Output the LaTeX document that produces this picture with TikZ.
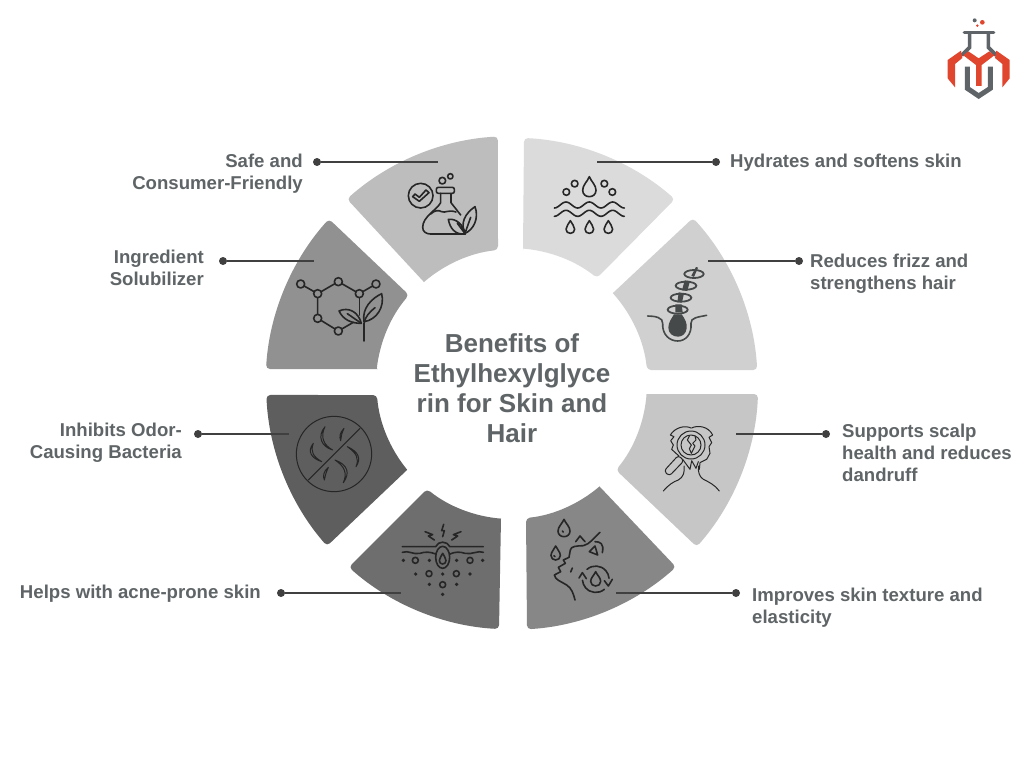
\documentclass[tikz,border=0pt]{standalone}
\usepackage{fontspec}
\setmainfont{Liberation Sans}
\definecolor{txt}{HTML}{5F6467}
\definecolor{lin}{HTML}{404040}
\definecolor{ico}{HTML}{262626}
\definecolor{lred}{HTML}{E0452E}
\definecolor{lgray}{HTML}{5F6468}
\newcommand\sect[9]{%
  \pgfmathsetmacro\aB{atan2(#5-384,#4-512)}%
  \pgfmathsetmacro\aC{atan2(#7-384,#6-512)}%
  \pgfmathsetmacro\aD{atan2(#9-384,#8-512)}%
  \pgfmathsetmacro\aA{atan2(#3-384,#2-512)}%
  \pgfmathsetmacro\rO{veclen(#4-512,#5-384)}%
  \pgfmathsetmacro\rI{veclen(#8-512,#9-384)}%
  \fill[#1] (#2,#3) [rounded corners=4pt] -- (#4,#5) arc[start angle=\aB,end angle=\aC,radius=\rO] -- (#8,#9) [sharp corners] arc[start angle=\aD,end angle=\aA,radius=\rI] -- cycle;%
}
% drop outline: tip x, tip y, width, height
\newcommand\dropic[4]{\draw[ic,shift={(#1,#2)},xscale=#3,yscale=#4] (0,0) .. controls (.15,.25) and (.5,.42) .. (.5,.68) .. controls (.5,.88) and (.27,1) .. (0,1) .. controls (-.27,1) and (-.5,.88) .. (-.5,.68) .. controls (-.5,.42) and (-.15,.25) .. (0,0) -- cycle;}
\tikzset{
  lbl/.style={text=txt,font=\bfseries\fontsize{18.6}{22}\selectfont,inner sep=0pt},
  dotn/.style={circle,fill=lin,inner sep=0pt,minimum size=8pt},
  conn/.style={draw=lin,line width=2pt},
  ic/.style={draw=ico,line width=1.6pt,line cap=round,line join=round},
  ict/.style={draw=ico,line width=1pt,line cap=round,line join=round},
  zoomA/.style={shift={(#1)},scale=0.33333}
}
\begin{document}
\begin{tikzpicture}[x=1pt,y=1pt,yscale=-1]
\useasboundingbox (0,0) rectangle (1024,768);
\fill[white] (0,0) rectangle (1024,768);
\sect{black!14}{523}{250}{524}{138}{675}{199}{597}{278}
\sect{black!18.5}{614}{292}{693}{218}{758}{370}{647}{370}
\sect{black!22.5}{646}{394}{758}{394}{697}{547}{616}{470}
\sect{black!47}{600}{487}{676}{567}{527}{629}{526}{518}
\sect{black!57}{501}{518}{499}{629}{349}{567}{427}{489}
\sect{black!63}{407}{470}{327}{546}{266}{395}{377}{395}
\sect{black!43}{378}{369}{266}{369}{329}{219}{409}{295}
\sect{black!26}{423}{281}{347}{199}{498}{138}{498}{250}

% centre title
\node[name=title,text=txt,font=\bfseries\fontsize{26}{30}\selectfont,align=center,inner sep=0pt] at (512,388) {Benefits of\\Ethylhexylglyce\\rin for Skin and\\Hair};

% labels
\node[lbl,name=l8,anchor=east,align=right] at (303,174) {Safe and\\Consumer-Friendly};
\node[lbl,name=l7,anchor=east,align=right] at (204,268) {Ingredient\\Solubilizer};
\node[lbl,name=l6,anchor=east,align=right] at (182,443) {Inhibits Odor-\\Causing Bacteria};
\node[lbl,name=l5,anchor=east,align=right] at (261,594) {Helps with acne-prone skin};
\node[lbl,name=l1,anchor=west,align=left] at (730,163) {Hydrates and softens skin};
\node[lbl,name=l2,anchor=west,align=left] at (810,274) {Reduces frizz and\\strengthens hair};
\node[lbl,name=l3,anchor=west,align=left] at (842,453) {Supports scalp\\health and reduces\\dandruff};
\node[lbl,name=l4,anchor=west,align=left] at (752,608) {Improves skin texture and\\elasticity};

% connectors
\node[dotn,name=d8] at (317,162) {}; \coordinate (e8) at (438,162); \draw[conn] (d8) -- (e8);
\node[dotn,name=d1] at (716,162) {}; \coordinate (e1) at (597,162); \draw[conn] (d1) -- (e1);
\node[dotn,name=d7] at (223,261) {}; \coordinate (e7) at (314,261); \draw[conn] (d7) -- (e7);
\node[dotn,name=d2] at (799,261) {}; \coordinate (e2) at (708,261); \draw[conn] (d2) -- (e2);
\node[dotn,name=d6] at (198,434) {}; \coordinate (e6) at (289,434); \draw[conn] (d6) -- (e6);
\node[dotn,name=d3] at (826,434) {}; \coordinate (e3) at (736,434); \draw[conn] (d3) -- (e3);
\node[dotn,name=d5] at (281,593) {}; \coordinate (e5) at (401,593); \draw[conn] (d5) -- (e5);
\node[dotn,name=d4] at (736,593) {}; \coordinate (e4) at (616,593); \draw[conn] (d4) -- (e4);

% icon 1: hydration
\begin{scope}[zoomA={340,130}]
\dropic{748}{140}{40}{60}
\foreach \xx in {691,748,805} {\dropic{\xx}{272}{26}{38}}
\foreach \p in {(679,186),(704,161),(793,161),(817,186)} \draw[ic] \p circle (10);
\foreach \yy in {225,250} \draw[ic] plot[domain=0:210,samples=61,smooth] ({643+\x},{\yy+9*cos(\x*5.142857)});
\end{scope}

% icon 8: flask
\begin{scope}[zoomA={340,130}]
\draw[ic,rounded corners=2pt] (289,172) rectangle (343,190);
\draw[ic] (302,190) -- (302,218) .. controls (290,240) and (248,260) .. (248,292) .. controls (248,305) and (258,312) .. (272,312) -- (375,312);
\draw[ic] (333,190) -- (333,218) -- (362,255);
\draw[ic] (272,252) .. controls (285,240) and (295,240) .. (305,245) .. controls (315,250) and (325,238) .. (348,246);
\draw[ic] (307,152) circle (10);
\draw[ic] (331,139) circle (8);
\draw[ic] (242,197) circle (37);
\draw[ic] (218,200) -- (225,192) -- (238,202) -- (258,180) -- (267,188) -- (238,214) -- cycle;
\draw[ic] (375,310) .. controls (360,280) and (375,250) .. (405,230) .. controls (418,265) and (400,300) .. (375,310);
\draw[ic] (376,312) .. controls (345,315) and (330,295) .. (325,268) .. controls (350,265) and (370,285) .. (376,312) -- (352,280);
\draw[ic] (375,310) -- (392,262);
\end{scope}

% icon 7: molecule + leaves
\begin{scope}[zoomA={260,215}]
\draw[ic] (122,207) -- (173,236) -- (235,200) -- (298,236) -- (348,207);
\draw[ic] (173,236) -- (173,310) -- (235,348) -- (280,322);
\draw[ic] (298,236) -- (298,300);
\foreach \p in {(122,207),(173,236),(235,200),(298,236),(348,207),(173,310),(235,348)} \draw[ic,fill=black!43] \p circle (12);
\draw[ic] (312,378) -- (312,325) .. controls (315,305) and (330,290) .. (345,278);
\draw[ic] (312,320) .. controls (305,280) and (335,250) .. (365,236) .. controls (375,275) and (350,315) .. (312,320);
\draw[ic] (304,325) .. controls (275,325) and (250,315) .. (237,288) .. controls (265,275) and (295,290) .. (304,325);
\draw[ic] (304,325) -- (262,296);
\end{scope}

% icon 2: follicle
\begin{scope}[zoomA={610,215}]
\definecolor{fol}{HTML}{46494A}
\draw[fol,line width=1.6pt,line cap=round] (113,303) .. controls (135,303) and (160,308) .. (158,325) .. controls (156,360) and (180,378) .. (203,378) .. controls (225,378) and (246,360) .. (243,325) .. controls (241,308) and (265,306) .. (290,301);
\fill[fol] (192,298) -- (215,298) .. controls (225,312) and (232,325) .. (230,340) .. controls (228,357) and (216,365) .. (204,365) .. controls (188,365) and (175,355) .. (175,338) .. controls (175,322) and (185,310) .. (192,298) -- cycle;
\fill[fol] (196,268) -- (215,268) -- (218,292) -- (196,292) -- cycle;
\fill[fol] (206,232) -- (222,235) -- (216,262) -- (202,262) -- cycle;
\fill[fol] (224,196) -- (240,198) -- (232,228) -- (216,226) -- cycle;
\fill[fol] (258,156) -- (264,158) -- (252,186) -- (244,182) -- cycle;
\foreach \p/\rx in {(203,284)/30,(213,248)/31,(228,212)/31,(252,177)/29}
  \draw[fol,line width=1.8pt] \p ellipse[x radius=\rx,y radius=12];
\end{scope}

% icon 3: head + magnifier
\begin{scope}[zoomA={610,390}]
\draw[ict] (160,303) .. controls (175,285) and (190,275) .. (205,270) .. controls (220,262) and (225,245) .. (222,228);
\draw[ict] (328,303) .. controls (315,285) and (295,275) .. (280,268) .. controls (268,260) and (263,245) .. (266,228);
\draw[ict] (243,114) .. controls (225,105) and (195,112) .. (181,135) -- (192,140) -- (182,152) -- (190,165) -- (185,178) -- (198,190) -- (207,198);
\draw[ict] (245,114) .. controls (262,105) and (295,108) .. (308,135) -- (297,142) -- (305,158) -- (297,170) -- (300,190) -- (290,208) -- (270,218) -- (268,238);
\draw[ict] (218,208) -- (240,238) -- (245,212) -- (258,235) -- (265,215);
\draw[ict,fill=black!22.5] (243,165) circle (42);
\draw[ict] (243,165) circle (30);
\draw[ict] (238,138) -- (232,150) -- (244,165) -- (238,176) -- (244,190) -- (255,168) -- (248,160) -- (258,150) -- (255,138);
\draw[ict,rounded corners=3pt] (205,196) -- (222,212) -- (178,258) -- (162,243) -- cycle;
\end{scope}

% icon 4: face
\begin{scope}[zoomA={345,480}]
\dropic{657}{118}{36}{52}
\dropic{632}{198}{28}{42}
\draw[ic] (652,153) -- (655,156);
\draw[ic] (627,227) -- (630,230);
\draw[ic] (765,157) .. controls (745,175) and (735,192) .. (715,197) .. controls (695,198) and (678,198) .. (676,210) -- (672,232) -- (655,240) -- (661,250) -- (640,262) -- (647,275) -- (628,285) .. controls (630,300) and (650,305) .. (665,315) .. controls (680,325) and (685,340) .. (690,360);
\draw[ic] (692,185) -- (705,168) -- (720,185);
\draw[ic] (733,215) -- (750,198) -- (758,225) -- cycle;
\draw[ic] (750,185) .. controls (765,185) and (778,190) .. (772,218);
\draw[ic] (682,264) -- (677,276);
\dropic{752}{275}{30}{43}
\draw[ic] (726,268) arc[start angle=229,end angle=355,radius=40];
\draw[ic] (778,328) arc[start angle=50,end angle=175,radius=40];
\draw[ic] (702,294) -- (712,278) -- (724,296);
\draw[ic] (778,302) -- (790,318) -- (802,298);
\end{scope}

% icon 5: pimple
\begin{scope}[zoomA={345,480}]
\draw[ic] (172,200) -- (272,200) .. controls (280,182) and (305,182) .. (315,200) -- (415,200);
\draw[ic] (172,217) .. controls (190,210) and (205,225) .. (225,220) .. controls (240,215) and (255,215) .. (272,222);
\draw[ic] (315,222) .. controls (330,215) and (345,215) .. (360,220) .. controls (380,225) and (400,210) .. (415,217);
\draw[ic] (293,232) ellipse[x radius=21,y radius=33];
\dropic{293}{220}{20}{32}
\draw[ic] (296,133) -- (290,152) -- (298,152) -- (293,170);
\draw[ic] (240,155) -- (263,164) -- (250,168) -- (268,180);
\draw[ic] (348,155) -- (325,164) -- (338,168) -- (320,180);
\foreach \p in {(175,241),(253,241),(335,241),(413,241),(212,282),(293,282),(375,282),(253,313),(335,313),(293,343)} \fill[ico] \p circle (5.5);
\foreach \p in {(211,241),(375,241),(252,281),(334,281),(293,314)} \draw[ic] \p circle (9);
\end{scope}

% icon 6: no hair
\begin{scope}[zoomA={260,390}]
\draw[ict] (222,192) circle (113);
\draw[ict] (145,270) -- (300,115);
\draw[ict] (195,110) .. controls (170,140) and (185,170) .. (218,180) .. controls (190,165) and (180,140) .. (195,110) -- cycle;
\draw[ict] (160,160) .. controls (140,185) and (155,205) .. (185,215) .. controls (160,200) and (150,185) .. (160,160) -- cycle;
\draw[ict] (252,115) .. controls (238,130) and (238,140) .. (242,152) .. controls (243,140) and (245,130) .. (252,115) -- cycle;
\draw[ict] (262,170) .. controls (295,185) and (305,205) .. (288,230) .. controls (298,205) and (290,190) .. (262,170) -- cycle;
\draw[ict] (225,210) .. controls (265,225) and (270,250) .. (250,278) .. controls (262,250) and (255,230) .. (225,210) -- cycle;
\draw[ict] (205,232) .. controls (190,245) and (188,258) .. (193,270) .. controls (195,258) and (198,248) .. (205,232) -- cycle;
\end{scope}

% logo
\begin{scope}[zoomA={935,10}]
\fill[lgray] (119,31) circle (6);
\fill[lred] (142,37) circle (7);
\fill[lred] (127,47) circle (4);
\draw[lgray,line width=3.6pt,line cap=round] (88,67) -- (176,67);
\draw[lgray,line width=3.6pt,line join=miter] (104,68) -- (104,112) -- (80,136);
\draw[lgray,line width=3.6pt,line join=miter] (160,68) -- (160,112) -- (184,136);
\fill[lred] (78,122) -- (38,150) -- (38,205) -- (60,232) -- (60,162) -- (82,144) -- cycle;
\fill[lred] (184,122) -- (224,150) -- (224,205) -- (202,232) -- (202,162) -- (180,144) -- cycle;
\fill[lred] (100,124) -- (131,145) -- (163,124) -- (178,136) -- (140,165) -- (140,228) -- (123,228) -- (123,165) -- (85,136) -- cycle;
\draw[lgray,line width=5pt,line join=miter] (97,170) -- (97,235) -- (131,258) -- (166,235) -- (166,170);
\end{scope}
\end{tikzpicture}
\end{document}
